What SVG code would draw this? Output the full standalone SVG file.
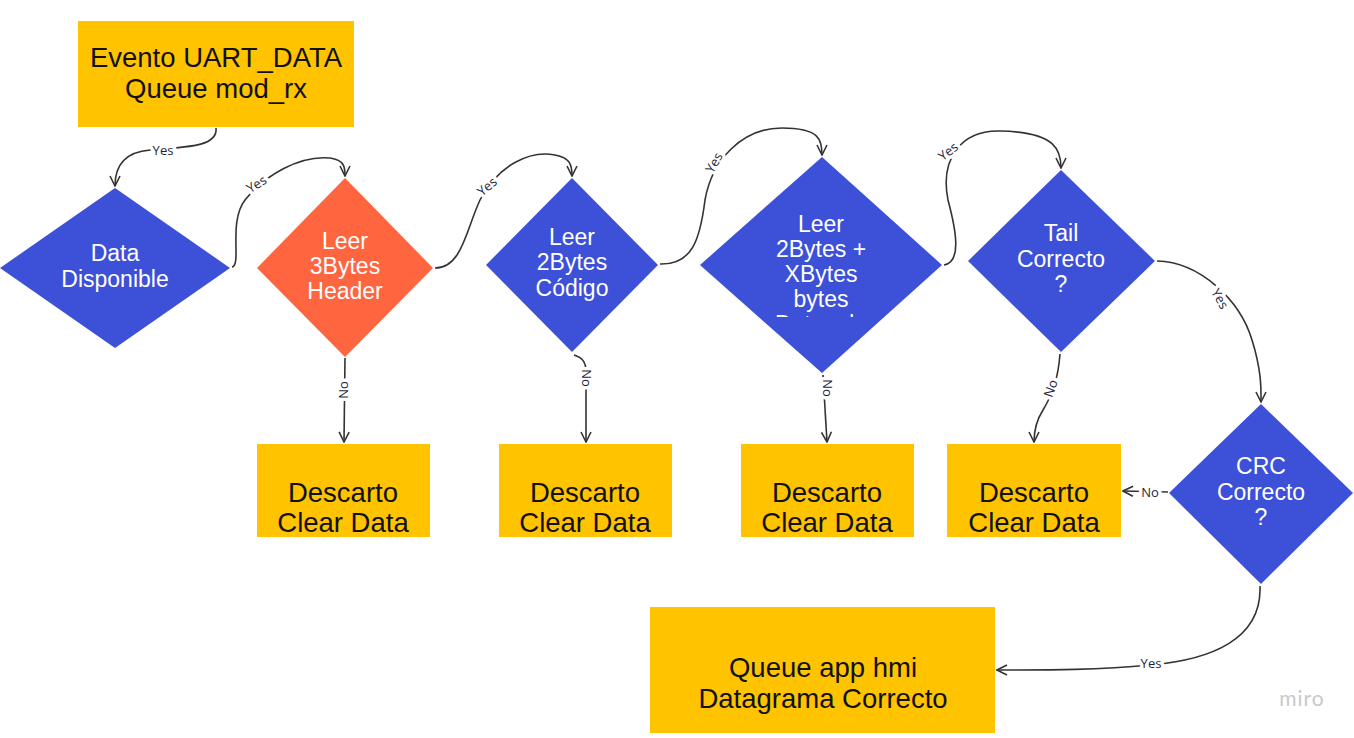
<svg xmlns="http://www.w3.org/2000/svg" width="1354" height="738" viewBox="0 0 1354 738">
<style>
.box{fill:#FFC300}
.blue{fill:#3D50D8}
.orange{fill:#FF653F}
.bt{font-family:"Liberation Sans",Arial,sans-serif;font-size:27.5px;fill:#111;text-anchor:middle}
.dt{font-family:"Liberation Sans",Arial,sans-serif;font-size:23px;fill:#fff;text-anchor:middle}
.c{fill:none;stroke:#333;stroke-width:1.6;marker-end:url(#arr)}
.lb{font-family:"Open Sans","DejaVu Sans",sans-serif;font-size:13px;fill:#1e1e3c;text-anchor:middle;stroke:#fff;stroke-width:7;paint-order:stroke;stroke-linejoin:round}
</style>
<defs>
<marker id="arr" viewBox="0 0 12 12" refX="11" refY="6" markerWidth="12" markerHeight="12" markerUnits="userSpaceOnUse" orient="auto">
<path d="M1,1 L11,6 L1,11" fill="none" stroke="#333" stroke-width="1.6"/>
</marker>
<clipPath id="d4clip"><rect x="690" y="150" width="260" height="167"/></clipPath>
</defs>
<rect width="1354" height="738" fill="#fff"/>

<g id="connectors">
<path class="c" d="M216,128 C218,146 190,147 150,150 C125,152 115,166 115,186"/>
<path class="c" d="M232,267 C242,265 228,222 245,200 C265,175 300,155 330,158 C345,160 345,168 345,176"/>
<path class="c" d="M435,268 C462,268 466,230 480,200 C498,165 530,150 555,155 C571,158 572,166 572,176"/>
<path class="c" d="M660,264 C692,265 700,240 705,200 C712,160 742,128 782,128 C820,128 822,140 822,155"/>
<path class="c" d="M944,265 C962,262 956,230 948,200 C940,160 960,130 1000,131 C1058,132 1061,152 1061,168"/>
<path class="c" d="M1157,261 C1200,262 1240,300 1252,340 C1262,372 1261,390 1261,402"/>
<path class="c" d="M1260,586 C1262,640 1210,660 1150,665 C1100,670 1050,670 997,670"/>
<path class="c" d="M1168,492 L1123,491"/>
<path class="c" d="M345,358 L344,442"/>
<path class="c" d="M574,355 C584,358 586,364 586,372 L586,442"/>
<path class="c" d="M823,375 L827,442"/>
<path class="c" d="M1060,354 C1058,380 1052,395 1043,410 C1036,421 1034,430 1034,442"/>
<text class="lb" x="163" y="155">Yes</text>
<text class="lb" transform="translate(259,188) rotate(-32)">Yes</text>
<text class="lb" transform="translate(490,190) rotate(-40)">Yes</text>
<text class="lb" transform="translate(718,165) rotate(-60)">Yes</text>
<text class="lb" transform="translate(951,155) rotate(-38)">Yes</text>
<text class="lb" transform="translate(1216,301) rotate(60)">Yes</text>
<text class="lb" x="1151" y="668">Yes</text>
<text class="lb" x="1150" y="497">No</text>
<text class="lb" transform="translate(348,390) rotate(-90)">No</text>
<text class="lb" transform="translate(582,378) rotate(90)">No</text>
<text class="lb" transform="translate(823,388) rotate(90)">No</text>
<text class="lb" transform="translate(1055,390) rotate(-70)">No</text>
</g>

<g id="start">
<rect class="box" x="78" y="21" width="276" height="106"/>
<text class="bt" x="216" y="67">Evento UART_DATA</text>
<text class="bt" x="216" y="98">Queue mod_rx</text>
</g>

<g id="d1">
<polygon class="blue" points="115,188 230,268 115,348 0,268"/>
<text class="dt" x="115" y="261">Data</text>
<text class="dt" x="115" y="287">Disponible</text>
</g>

<g id="d2">
<polygon class="orange" points="345,178 433,268 345,357 257,268"/>
<text class="dt" x="345" y="249">Leer</text>
<text class="dt" x="345" y="274">3Bytes</text>
<text class="dt" x="345" y="299">Header</text>
</g>

<g id="d3">
<polygon class="blue" points="572,178 658,265 572,352 486,265"/>
<text class="dt" x="572" y="245">Leer</text>
<text class="dt" x="572" y="270">2Bytes</text>
<text class="dt" x="572" y="296">Código</text>
</g>

<g id="d4">
<polygon class="blue" points="822,157 942,265 822,373 700,265"/>
<g clip-path="url(#d4clip)">
<text class="dt" x="821" y="232">Leer</text>
<text class="dt" x="821" y="257">2Bytes +</text>
<text class="dt" x="821" y="282">XBytes</text>
<text class="dt" x="821" y="307">bytes</text>
<text class="dt" x="821" y="332">Datos de</text>
</g>
</g>

<g id="d5">
<polygon class="blue" points="1061,170 1155,261 1061,352 968,261"/>
<text class="dt" x="1061" y="241">Tail</text>
<text class="dt" x="1061" y="267">Correcto</text>
<text class="dt" x="1061" y="292">?</text>
</g>

<g id="d6">
<polygon class="blue" points="1261,404 1353,493 1261,584 1169,493"/>
<text class="dt" x="1261" y="474">CRC</text>
<text class="dt" x="1261" y="500">Correcto</text>
<text class="dt" x="1261" y="525">?</text>
</g>

<g id="x1">
<rect class="box" x="257" y="444" width="173" height="93"/>
<text class="bt" x="343" y="502">Descarto</text>
<text class="bt" x="343" y="532">Clear Data</text>
</g>
<g id="x2">
<rect class="box" x="499" y="444" width="173" height="93"/>
<text class="bt" x="585" y="502">Descarto</text>
<text class="bt" x="585" y="532">Clear Data</text>
</g>
<g id="x3">
<rect class="box" x="741" y="444" width="173" height="93"/>
<text class="bt" x="827" y="502">Descarto</text>
<text class="bt" x="827" y="532">Clear Data</text>
</g>
<g id="x4">
<rect class="box" x="947" y="444" width="174" height="93"/>
<text class="bt" x="1034" y="502">Descarto</text>
<text class="bt" x="1034" y="532">Clear Data</text>
</g>

<g id="end">
<rect class="box" x="650" y="607" width="345" height="126"/>
<text class="bt" x="823" y="677">Queue app hmi</text>
<text class="bt" x="823" y="708">Datagrama Correcto</text>
</g>

<text x="1302" y="706" font-family="Lato,'Open Sans',sans-serif" font-size="21" letter-spacing="1" fill="#c8c8cc" text-anchor="middle">miro</text>
</svg>
